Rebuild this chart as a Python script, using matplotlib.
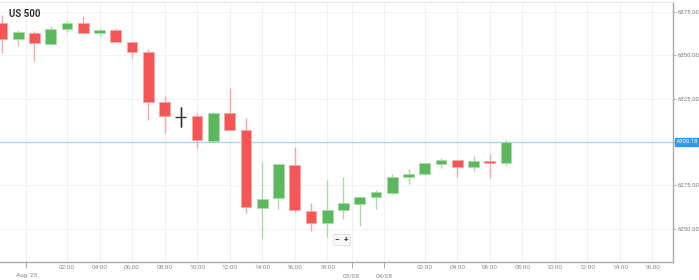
import matplotlib
matplotlib.use('Agg')
import matplotlib.pyplot as plt

plt.rcParams['font.family'] = ['Roboto', 'DejaVu Sans']

# hourly candles, US 500
opens = [6368.6, 6359.4, 6362.9, 6356.5, 6365.2, 6368.6, 6362.9, 6364.6,
         6357.7, 6351.9, 6323.0, 6314.4, 6315.0, 6300.5, 6316.7, 6306.9,
         6261.8, 6267.6, 6286.7, 6260.1, 6253.2, 6260.7, 6264.1, 6268.2,
         6270.5, 6279.7, 6281.5, 6287.2, 6289.5, 6285.5, 6289.0, 6287.8]
highs = [6373.3, 6364.6, 6364.0, 6366.9, 6369.8, 6372.7, 6365.8, 6365.8,
         6357.7, 6353.6, 6326.5, 6320.2, 6316.7, 6317.5, 6331.1, 6314.0,
         6288.4, 6287.2, 6297.1, 6264.7, 6278.0, 6279.7, 6268.2, 6272.2,
         6281.5, 6284.4, 6288.0, 6290.7, 6289.5, 6291.9, 6293.0, 6301.1]
lows = [6351.3, 6355.4, 6346.7, 6356.5, 6363.5, 6362.9, 6361.1, 6357.7,
        6348.4, 6312.6, 6305.1, 6308.6, 6296.5, 6300.5, 6306.9, 6259.0,
        6243.9, 6261.3, 6259.5, 6248.6, 6245.1, 6255.5, 6251.4, 6261.3,
        6269.9, 6275.7, 6281.0, 6284.9, 6279.7, 6283.2, 6279.2, 6286.1]
closes = [6359.4, 6363.5, 6357.1, 6365.2, 6368.6, 6362.9, 6364.6, 6357.7,
          6351.9, 6323.0, 6315.0, 6314.4, 6301.1, 6316.7, 6306.9, 6262.4,
          6267.0, 6287.2, 6260.7, 6253.2, 6260.7, 6264.7, 6268.2, 6271.1,
          6279.7, 6281.5, 6287.8, 6289.5, 6285.5, 6289.0, 6287.8, 6300.18]
last_price = 6300.18

hour_pos = [4, 6, 8, 10, 12, 14, 16, 18, 20, 26, 28, 30, 32, 34, 36, 38, 40]
hour_labels = ['02:00', '04:00', '06:00', '08:00', '10:00', '12:00', '14:00',
               '16:00', '18:00', '02:00', '04:00', '06:00', '08:00', '10:00',
               '12:00', '14:00', '16:00']
date_pos = [1.5, 21.5, 23.5]
date_labels = ["Aug '25", '03/08', '04/08']
price_ticks = [6250, 6275, 6300, 6325, 6350, 6375]

RED = '#f45656'
GREEN = '#5cb85c'
RED_WICK = '#f8a5a5'
GREEN_WICK = '#a9dba9'

fig = plt.figure(figsize=(6.99, 2.8), dpi=100)
ax = fig.add_axes([0.0, 0.064, 0.963, 0.929])

for i in range(len(opens)):
    o, h, l, c = opens[i], highs[i], lows[i], closes[i]
    if abs(o - c) < 0.05:
        col, wcol = '#333333', '#333333'
    elif c > o:
        col, wcol = GREEN, GREEN_WICK
    else:
        col, wcol = RED, RED_WICK
    ax.vlines(i, l, h, color=wcol, lw=1, zorder=2)
    if col == '#333333':
        ax.hlines(o, i - 0.33, i + 0.33, color=col, lw=1, zorder=3)
        ax.vlines(i, l, h, color=col, lw=1, zorder=3)
    else:
        ax.bar(i, max(abs(c - o), 0.6), bottom=min(o, c), width=0.66,
               color=col, edgecolor=wcol, linewidth=0.6, zorder=3)

ax.set_xlim(-0.12, 41.27)
ax.set_ylim(6230.7, 6380.8)

# grid
for x in hour_pos + date_pos:
    ax.axvline(x, color='#f0f0f0', lw=0.8, zorder=0)
for y in price_ticks:
    ax.axhline(y, color='#f3f3f3', lw=0.8, zorder=0)

# current price line
ax.axhline(last_price, color='#aad6f2', lw=1, zorder=1)

# x axis
ax.set_xticks(date_pos)
ax.set_xticklabels(date_labels)
ax.set_xticks(hour_pos, minor=True)
ax.set_xticklabels(hour_labels, minor=True)
ax.tick_params(axis='x', which='major', length=4, width=0.6, color='#999999',
               labelsize=4.6, labelcolor='#888888', pad=4)
ax.tick_params(axis='x', which='minor', length=0, labelsize=4.6,
               labelcolor='#888888', pad=2)

# y axis on right
ax.yaxis.tick_right()
ax.set_yticks(price_ticks)
ax.set_yticklabels(['%.2f' % v for v in price_ticks])
ax.tick_params(axis='y', length=2, width=0.5, color='#999999', labelsize=4.3,
               labelcolor='#777777', pad=1)

ax.spines['left'].set_visible(False)
ax.spines['top'].set_color('#e6e6e6')
ax.spines['top'].set_linewidth(0.8)
ax.spines['right'].set_color('#aaaaaa')
ax.spines['bottom'].set_color('#aaaaaa')
ax.spines['right'].set_linewidth(1)
ax.spines['bottom'].set_linewidth(1)

# price label
ax.annotate('%.2f' % last_price, xy=(1.0, last_price),
            xycoords=('axes fraction', 'data'), xytext=(2.5, 0),
            textcoords='offset points', ha='left', va='center',
            fontsize=4.2, color='white',
            bbox=dict(boxstyle='square,pad=0.25', fc='#2b9af3', ec='#2b9af3'))

# title
ax.text(0.013, 0.955, 'US 500', transform=ax.transAxes, fontsize=7,
        fontweight='bold', color='#333333', ha='left', va='center')

# zoom controls
ax.text(0.508, 0.085, '\u2212  +', transform=ax.transAxes, fontsize=6,
        fontweight='bold', color='#444444', ha='center', va='center',
        bbox=dict(boxstyle='round,pad=0.25', fc='#f7f7f7', ec='#e0e0e0', lw=0.6))

fig.savefig('out.png', dpi=100)
